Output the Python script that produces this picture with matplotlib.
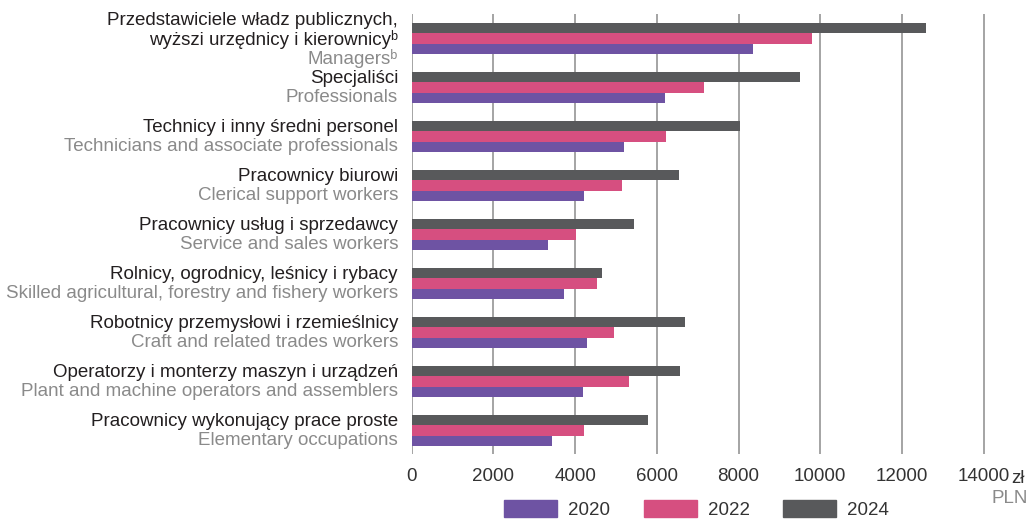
import numpy as np
import matplotlib.pyplot as plt
from matplotlib.patches import Patch

plt.rcParams['font.family'] = ['Liberation Sans', 'DejaVu Sans']

# Grupy zawodów (PL / EN)
labels_pl = [
    ['Przedstawiciele władz publicznych,', 'wyższi urzędnicy i kierownicyᵇ'],
    ['Specjaliści'],
    ['Technicy i inny średni personel'],
    ['Pracownicy biurowi'],
    ['Pracownicy usług i sprzedawcy'],
    ['Rolnicy, ogrodnicy, leśnicy i rybacy'],
    ['Robotnicy przemysłowi i rzemieślnicy'],
    ['Operatorzy i monterzy maszyn i urządzeń'],
    ['Pracownicy wykonujący prace proste'],
]
labels_en = [
    'Managersᵇ',
    'Professionals',
    'Technicians and associate professionals',
    'Clerical support workers',
    'Service and sales workers',
    'Skilled agricultural, forestry and fishery workers',
    'Craft and related trades workers',
    'Plant and machine operators and assemblers',
    'Elementary occupations',
]

# Przeciętne wynagrodzenie (zł)
v2020 = [8350, 6200, 5190, 4210, 3330, 3720, 4290, 4190, 3430]
v2022 = [9810, 7150, 6220, 5140, 4020, 4530, 4950, 5310, 4210]
v2024 = [12580, 9500, 8030, 6540, 5440, 4650, 6690, 6560, 5780]

years = ['2020', '2022', '2024']
colors = ['#6E53A3', '#D64F80', '#58595B']

W, H = 1032, 519
fig = plt.figure(figsize=(W / 100, H / 100), dpi=100)
ax = fig.add_axes([411.7 / W, (H - 454) / H, (W - 411.7) / W, (454 - 14) / H])

y = np.arange(len(v2020))
h = 0.21
ax.barh(y - h, v2024, height=h, color=colors[2], zorder=3)
ax.barh(y, v2022, height=h, color=colors[1], zorder=3)
ax.barh(y + h, v2020, height=h, color=colors[0], zorder=3)

ax.set_ylim(8.48, -0.5)
ax.set_xlim(0, (W - 411.7) / 0.04085)
ax.set_xticks(np.arange(0, 14001, 2000))
ax.set_xticklabels([str(v) for v in range(0, 14001, 2000)])
ax.set_yticks([])
ax.grid(axis='x', color='#8c8c8c', linewidth=1.1, zorder=0)
for s in ax.spines.values():
    s.set_visible(False)
ax.tick_params(axis='x', length=0, pad=10, labelsize=13.5, labelcolor='#333333')

# Etykiety kategorii
px = 72 / 100
for i in range(len(y)):
    lines = [(t, '#231F20') for t in labels_pl[i]] + [(labels_en[i], '#8a8a8a')]
    n = len(lines)
    for k, (txt, c) in enumerate(lines):
        off = ((k - (n - 1) / 2) * 19 + 1) * px
        ax.annotate(txt, xy=(0, i), xycoords=('axes fraction', 'data'),
                    xytext=(-13.7 * px, -off), textcoords='offset points',
                    ha='right', va='center', fontsize=13.5, color=c,
                    annotation_clip=False)

fig.text(1011 / W, (H - 483) / H, 'zł', ha='left', va='baseline',
         fontsize=13.5, color='#333333')
fig.text(1028 / W, (H - 503) / H, 'PLN', ha='right', va='baseline',
         fontsize=13.5, color='#8a8a8a')

handles = [Patch(color=c) for c in colors]
fig.legend(handles, years, loc='lower left', bbox_to_anchor=(504 / W, 0),
           ncol=3, frameon=False, handlelength=2.83, handleheight=1.07,
           handletextpad=0.59, columnspacing=1.78, borderpad=0,
           borderaxespad=0, fontsize=13.5, labelcolor='#333333')

fig.savefig('out.png', dpi=100)
